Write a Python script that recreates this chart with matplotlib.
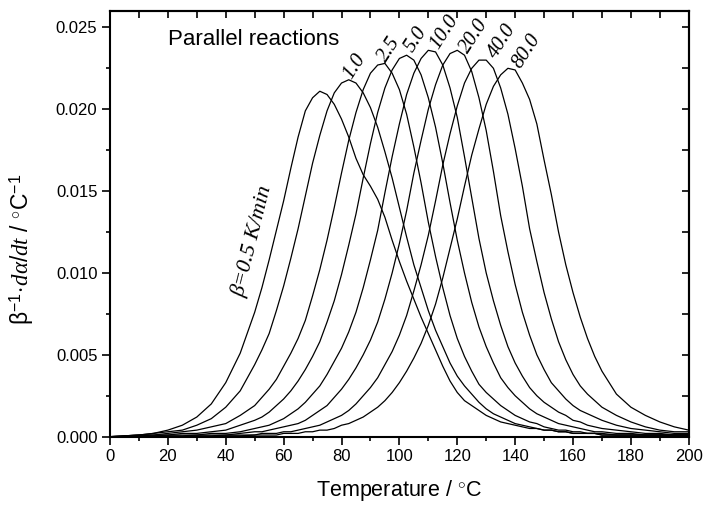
import numpy as np
import matplotlib
matplotlib.use("Agg")
import matplotlib.pyplot as plt
from matplotlib.ticker import MultipleLocator

plt.rcParams['font.family'] = ['Liberation Sans', 'DejaVu Sans']
plt.rcParams['mathtext.fontset'] = 'custom'
plt.rcParams['mathtext.rm'] = 'Liberation Sans'
plt.rcParams['mathtext.it'] = 'Liberation Serif:italic'
plt.rcParams['mathtext.bf'] = 'Liberation Sans:bold'

# temperature grid, degC: coarse in the tails, 2.5 degC through the peaks
temps = list(range(0, 50, 5)) + list(np.arange(50, 170, 2.5)) + list(range(170, 201, 5))

# beta^-1 * dalpha/dt, one list per heating rate
rate_0_5 = [0.0000, 0.00005, 0.0001, 0.0002, 0.0004, 0.0007, 0.0012, 0.0020, 0.0033, 0.0051,
            0.0076, 0.0091, 0.0108, 0.0126, 0.0144, 0.0164, 0.0183, 0.0199, 0.0207, 0.0211,
            0.0209, 0.0203, 0.0194, 0.0183, 0.0170, 0.0160, 0.0153, 0.0145, 0.0134, 0.0120,
            0.0107, 0.0095, 0.0084, 0.0073, 0.0063, 0.0053, 0.0043, 0.0034, 0.0027, 0.0022,
            0.0019, 0.0016, 0.0013, 0.0011, 0.0009, 0.0008, 0.0007, 0.0006, 0.0005, 0.0005,
            0.0004, 0.0004, 0.0003, 0.0003, 0.0002, 0.0002, 0.0002, 0.0002,
            0.0001, 0.0001, 0.0001, 0.0001, 0.0001, 0.0001, 0.0001]
rate_1_0 = [0.0000, 0.00005, 0.0001, 0.0002, 0.0003, 0.0004, 0.0007, 0.0011, 0.0018, 0.0028,
            0.0044, 0.0053, 0.0063, 0.0077, 0.0092, 0.0109, 0.0127, 0.0147, 0.0167, 0.0184,
            0.0199, 0.0210, 0.0216, 0.0218, 0.0216, 0.0210, 0.0201, 0.0189, 0.0174, 0.0158,
            0.0140, 0.0122, 0.0105, 0.0091, 0.0077, 0.0065, 0.0055, 0.0045, 0.0037, 0.0031,
            0.0026, 0.0021, 0.0017, 0.0014, 0.0012, 0.0010, 0.0008, 0.0007, 0.0006, 0.0005,
            0.0004, 0.0004, 0.0003, 0.0003, 0.0002, 0.0002, 0.0002, 0.0002,
            0.0001, 0.0001, 0.0001, 0.0001, 0.0001, 0.0001, 0.0001]
rate_2_5 = [0.0000, 0.00005, 0.0001, 0.0001, 0.0002, 0.0003, 0.0004, 0.0006, 0.0008, 0.0013,
            0.0019, 0.0024, 0.0029, 0.0035, 0.0043, 0.0051, 0.0060, 0.0071, 0.0086, 0.0102,
            0.0120, 0.0140, 0.0161, 0.0181, 0.0198, 0.0212, 0.0222, 0.0227, 0.0228, 0.0222,
            0.0212, 0.0197, 0.0177, 0.0155, 0.0131, 0.0110, 0.0091, 0.0074, 0.0060, 0.0049,
            0.0040, 0.0032, 0.0027, 0.0023, 0.0019, 0.0016, 0.0013, 0.0011, 0.0009, 0.0008,
            0.0006, 0.0005, 0.0004, 0.0004, 0.0003, 0.0003, 0.0002, 0.0002,
            0.0002, 0.0001, 0.0001, 0.0001, 0.0001, 0.0001, 0.0001]
rate_5_0 = [0.0000, 0.0000, 0.00005, 0.0001, 0.0001, 0.0002, 0.0002, 0.0003, 0.0004, 0.0007,
            0.0010, 0.0012, 0.0015, 0.0019, 0.0023, 0.0028, 0.0034, 0.0041, 0.0049, 0.0058,
            0.0070, 0.0083, 0.0099, 0.0117, 0.0136, 0.0158, 0.0179, 0.0198, 0.0213, 0.0224,
            0.0231, 0.0233, 0.0230, 0.0221, 0.0207, 0.0189, 0.0167, 0.0143, 0.0120, 0.0100,
            0.0082, 0.0067, 0.0055, 0.0045, 0.0036, 0.0030, 0.0025, 0.0021, 0.0017, 0.0014,
            0.0012, 0.0010, 0.0008, 0.0007, 0.0006, 0.0005, 0.0004, 0.0003,
            0.0003, 0.0002, 0.0002, 0.0001, 0.0001, 0.0001, 0.0001]
rate_10 = [0.0000, 0.0000, 0.0000, 0.00005, 0.0001, 0.0001, 0.0001, 0.0002, 0.0002, 0.0003,
           0.0005, 0.0006, 0.0007, 0.0009, 0.0011, 0.0014, 0.0017, 0.0021, 0.0026, 0.0031,
           0.0038, 0.0046, 0.0054, 0.0064, 0.0076, 0.0091, 0.0108, 0.0126, 0.0149, 0.0171,
           0.0191, 0.0209, 0.0222, 0.0231, 0.0236, 0.0235, 0.0227, 0.0213, 0.0195, 0.0171,
           0.0146, 0.0121, 0.0100, 0.0083, 0.0068, 0.0055, 0.0045, 0.0037, 0.0030, 0.0025,
           0.0021, 0.0018, 0.0015, 0.0013, 0.0010, 0.0009, 0.0007, 0.0006,
           0.0005, 0.0004, 0.0003, 0.0002, 0.0002, 0.0001, 0.0001]
rate_20 = [0.0000, 0.0000, 0.0000, 0.0000, 0.00005, 0.00005, 0.0001, 0.0001, 0.0001, 0.0002,
           0.0003, 0.0003, 0.0004, 0.0005, 0.0006, 0.0007, 0.0008, 0.0010, 0.0013, 0.0016,
           0.0019, 0.0024, 0.0029, 0.0035, 0.0042, 0.0050, 0.0059, 0.0070, 0.0084, 0.0100,
           0.0118, 0.0138, 0.0161, 0.0181, 0.0200, 0.0215, 0.0227, 0.0234, 0.0236, 0.0233,
           0.0223, 0.0207, 0.0187, 0.0162, 0.0135, 0.0113, 0.0093, 0.0076, 0.0062, 0.0050,
           0.0041, 0.0033, 0.0028, 0.0023, 0.0019, 0.0016, 0.0014, 0.0012,
           0.0010, 0.0007, 0.0005, 0.0004, 0.0003, 0.0002, 0.0002]
rate_40 = [0.0000, 0.0000, 0.0000, 0.0000, 0.0000, 0.0000, 0.00005, 0.00005, 0.0001, 0.0001,
           0.0001, 0.0002, 0.0002, 0.0002, 0.0003, 0.0003, 0.0004, 0.0005, 0.0006, 0.0007,
           0.0009, 0.0011, 0.0013, 0.0016, 0.0020, 0.0025, 0.0030, 0.0036, 0.0044, 0.0052,
           0.0062, 0.0074, 0.0089, 0.0105, 0.0123, 0.0144, 0.0166, 0.0185, 0.0202, 0.0216,
           0.0225, 0.0230, 0.0230, 0.0225, 0.0213, 0.0197, 0.0176, 0.0153, 0.0127, 0.0107,
           0.0088, 0.0072, 0.0058, 0.0047, 0.0038, 0.0031, 0.0026, 0.0022,
           0.0018, 0.0013, 0.0009, 0.0006, 0.0004, 0.0003, 0.0003]
rate_80 = [0.0000, 0.0000, 0.0000, 0.0000, 0.0000, 0.0000, 0.0000, 0.0000, 0.00005, 0.00005,
           0.0001, 0.0001, 0.0001, 0.0001, 0.0002, 0.0002, 0.0002, 0.0003, 0.0003, 0.0004,
           0.0004, 0.0005, 0.0007, 0.0008, 0.0010, 0.0012, 0.0015, 0.0018, 0.0022, 0.0027,
           0.0033, 0.0040, 0.0048, 0.0057, 0.0068, 0.0081, 0.0097, 0.0115, 0.0133, 0.0153,
           0.0172, 0.0188, 0.0203, 0.0214, 0.0221, 0.0225, 0.0224, 0.0216, 0.0206, 0.0191,
           0.0169, 0.0148, 0.0125, 0.0105, 0.0088, 0.0073, 0.0060, 0.0049,
           0.0040, 0.0026, 0.0018, 0.0013, 0.0009, 0.0006, 0.0004]

curves = [rate_0_5, rate_1_0, rate_2_5, rate_5_0, rate_10, rate_20, rate_40, rate_80]

rate_labels = ['1.0', '2.5', '5.0', '10.0', '20.0', '40.0', '80.0']
label_x = [84.6, 96.4, 105.7, 115.7, 125.7, 135.4, 144.0]
label_y = [0.02260, 0.02366, 0.02428, 0.02471, 0.02446, 0.02416, 0.02355]

fig = plt.figure(figsize=(7.05, 5.07), dpi=100)
ax = fig.add_axes([0.156, 0.1387, 0.821, 0.8396])

for vals in curves:
    ax.plot(temps, vals, color='black', lw=0.9)

ax.set_xlim(0, 200)
ax.set_ylim(0, 0.026)
ax.xaxis.set_major_locator(MultipleLocator(20))
ax.xaxis.set_minor_locator(MultipleLocator(10))
ax.yaxis.set_major_locator(MultipleLocator(0.005))
ax.yaxis.set_minor_locator(MultipleLocator(0.0025))
ax.yaxis.set_major_formatter(plt.FormatStrFormatter('%.3f'))
ax.tick_params(which='major', direction='out', length=6, width=1.2, labelsize=12, pad=3)
ax.tick_params(which='minor', direction='out', length=3, width=1.2)
for s in ax.spines.values():
    s.set_linewidth(1.5)

# top and right ticks point inward, no labels
top = ax.secondary_xaxis('top')
top.xaxis.set_major_locator(MultipleLocator(20))
top.xaxis.set_minor_locator(MultipleLocator(10))
top.tick_params(which='both', direction='in', length=5, width=1.2, labeltop=False)
top.spines['top'].set_linewidth(1.5)
right = ax.secondary_yaxis('right')
right.yaxis.set_major_locator(MultipleLocator(0.005))
right.yaxis.set_minor_locator(MultipleLocator(0.0025))
right.tick_params(which='both', direction='in', length=5, width=1.2, labelright=False)
right.spines['right'].set_linewidth(1.5)

ax.set_xlabel(r'Temperature / $^{\circ}$C', fontsize=15.5, labelpad=10)
ax.set_ylabel(r'$\mathrm{\beta}^{-1}\!\cdot\!\mathit{d\alpha/dt}$ / $^{\circ}$C$^{-1}$', fontsize=16.5)
ax.yaxis.set_label_coords(-0.128, 0.441)

ax.text(20, 0.02428, 'Parallel reactions', fontsize=16, ha='left', va='center')
ax.text(49.4, 0.01195, 'β=0.5 K/min', fontsize=16, family='Liberation Serif', style='italic',
        rotation=76, rotation_mode='anchor', ha='center', va='center')
for lab, lx, ly in zip(rate_labels, label_x, label_y):
    ax.text(lx, ly, lab, fontsize=15, family='Liberation Serif', style='italic',
            rotation=57, rotation_mode='anchor', ha='center', va='center')

fig.savefig('out.png', dpi=100)
